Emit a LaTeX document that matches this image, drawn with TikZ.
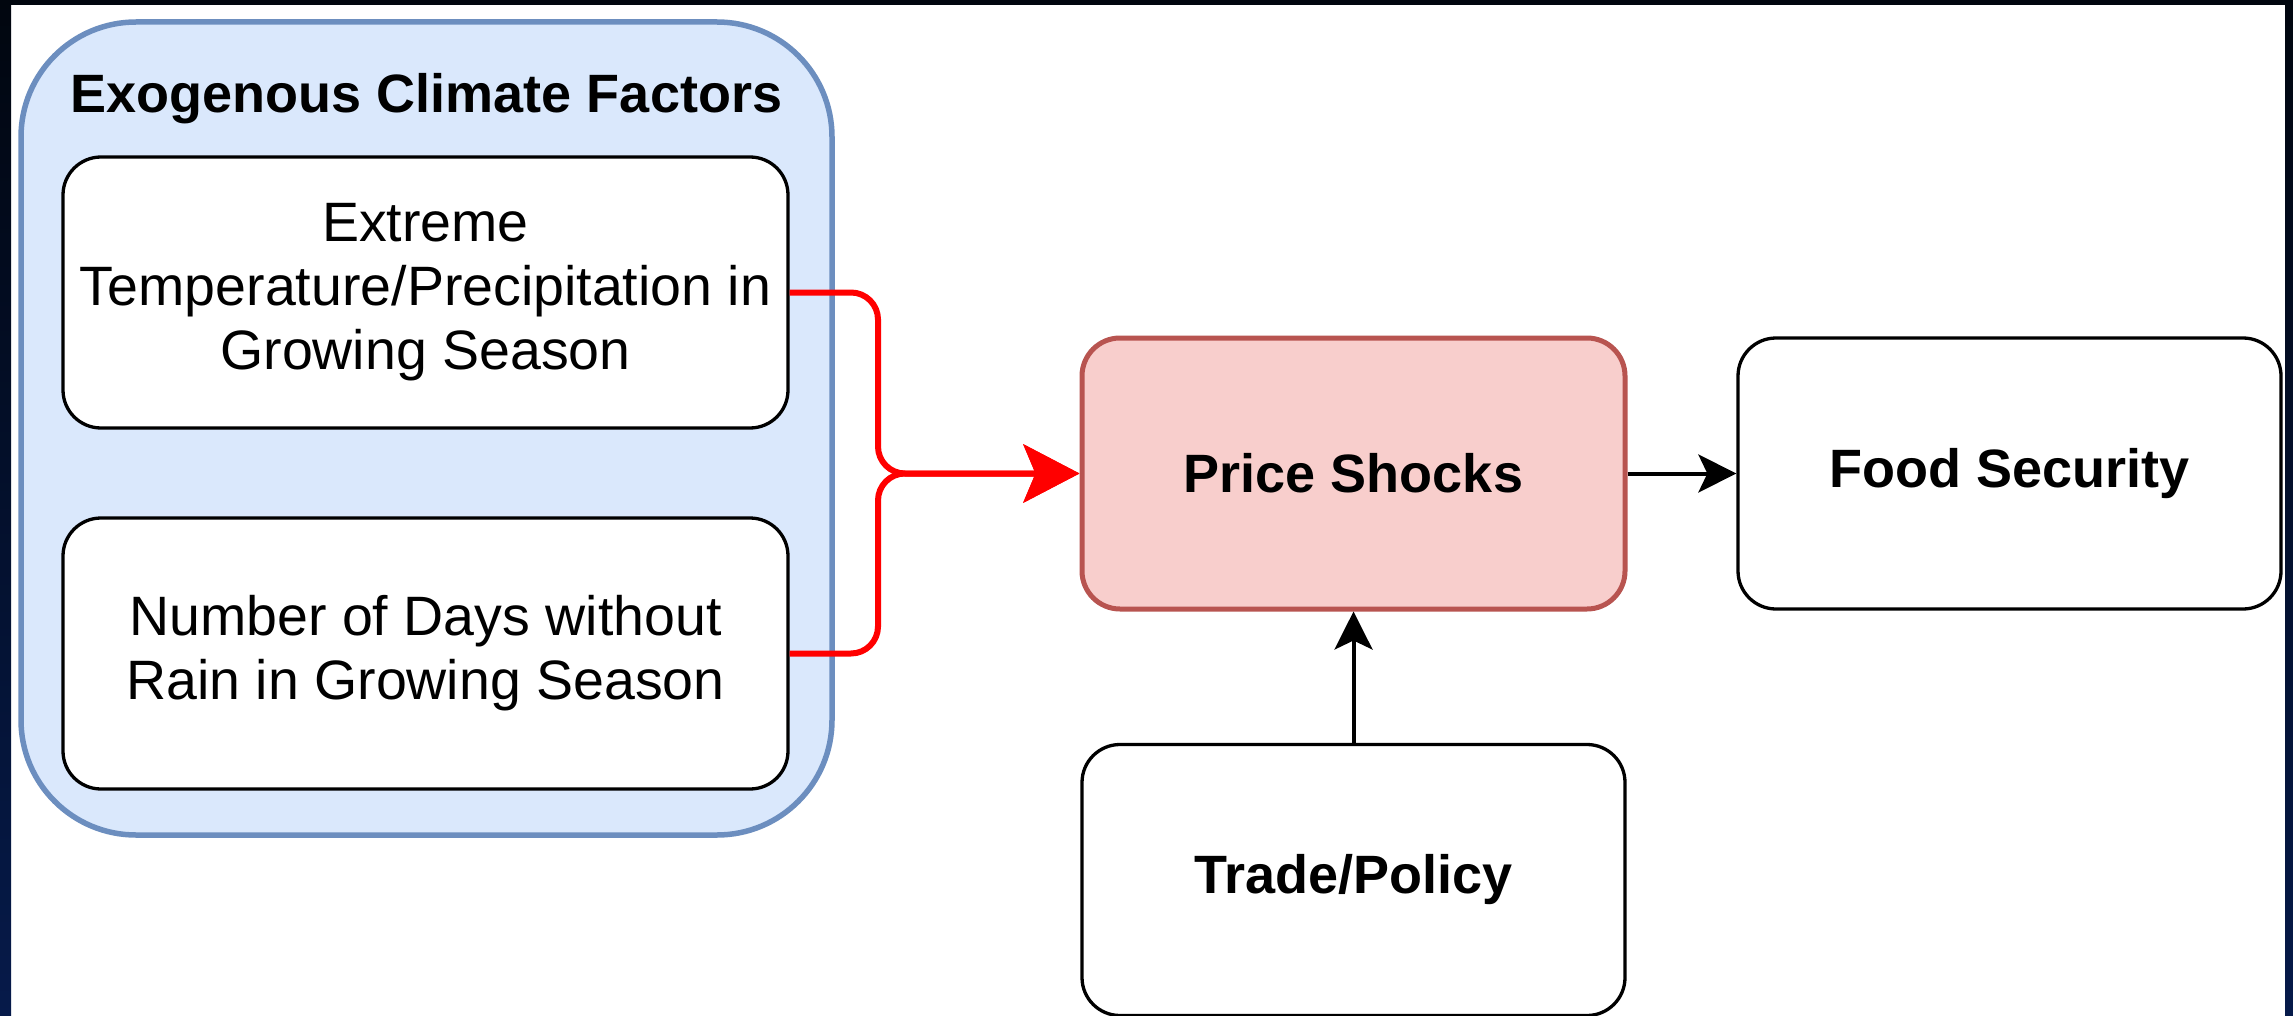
\documentclass[tikz,border=0pt]{standalone}
\usepackage{fontspec}
\setmainfont{Liberation Sans}
\usetikzlibrary{arrows.meta}

\definecolor{frameTop}{HTML}{01060F}
\definecolor{frameBot}{HTML}{061A4A}
\definecolor{groupFill}{HTML}{DAE8FC}
\definecolor{groupLine}{HTML}{6C8EBF}
\definecolor{hotFill}{HTML}{F8CECC}
\definecolor{hotLine}{HTML}{B85450}
\definecolor{linkRed}{HTML}{FF0000}

\begin{document}
\begin{tikzpicture}[x=1pt,y=-1pt,
  txt/.style={font=\fontsize{55.5}{64}\selectfont},
  boldtxt/.style={font=\bfseries\fontsize{54}{63}\selectfont},
  group/.style={draw=groupLine, fill=groupFill, line width=5.5pt,
    rounded corners=115pt, minimum width=811pt, minimum height=813pt,
    inner sep=0pt},
  box/.style={draw=black, fill=white, line width=3.3pt, rounded corners=38pt,
    minimum width=725pt, minimum height=271pt, align=center, inner sep=0pt, txt},
  bigbox/.style={draw=black, fill=white, line width=3.3pt, rounded corners=38pt,
    minimum width=543pt, minimum height=271pt, align=center, inner sep=0pt, boldtxt},
  hotbox/.style={bigbox, draw=hotLine, fill=hotFill, line width=5pt},
  redlink/.style={draw=linkRed, line width=6pt, rounded corners=27pt,
    -{Stealth[length=56pt,width=58pt,inset=12pt]}},
  blacklink/.style={draw=black, line width=4pt,
    -{Stealth[length=38pt,width=38pt,inset=9pt]}},
  band/.style={top color=frameTop, bottom color=frameBot, draw=none}
]
\useasboundingbox (0,0) rectangle (2293,1016);
\fill[white] (0,0) rectangle (2293,1016);

% climate factor group
\node[group] (grp) at (426.5,428.5) {};
\node[boldtxt, anchor=base] (title) at (426.5,113) {Exogenous Climate Factors};
\node[box] (b1) at (425.5,292.5) {Extreme\\Temperature/Precipitation in\\Growing Season};
\node[box] (b2) at (425.5,653.5) {Number of Days without\\Rain in Growing Season};

% outcome chain
\node[hotbox] (ps) at (1353.5,473.5) {Price Shocks};
\node[bigbox] (fs) at (2009.5,473.5) {Food Security};
\node[bigbox] (tp) at (1353.5,880) {Trade/Policy};

% connectors
\coordinate (fork) at (878,473.5);
\draw[redlink] (b1.east) -- (b1.east -| fork) -- (fork) -- (ps.west);
\draw[redlink] (b2.east) -- (b2.east -| fork) -- (fork) -- (ps.west);
\draw[blacklink] (ps.east) -- (fs.west);
\draw[blacklink] (tp.north) -- (ps.south);

% dark frame on three sides
\shade[band] (0,0) rectangle (11,1016);
\shade[band] (2285,0) rectangle (2293,1016);
\fill[frameTop] (0,0) rectangle (2293,5);
\end{tikzpicture}
\end{document}
